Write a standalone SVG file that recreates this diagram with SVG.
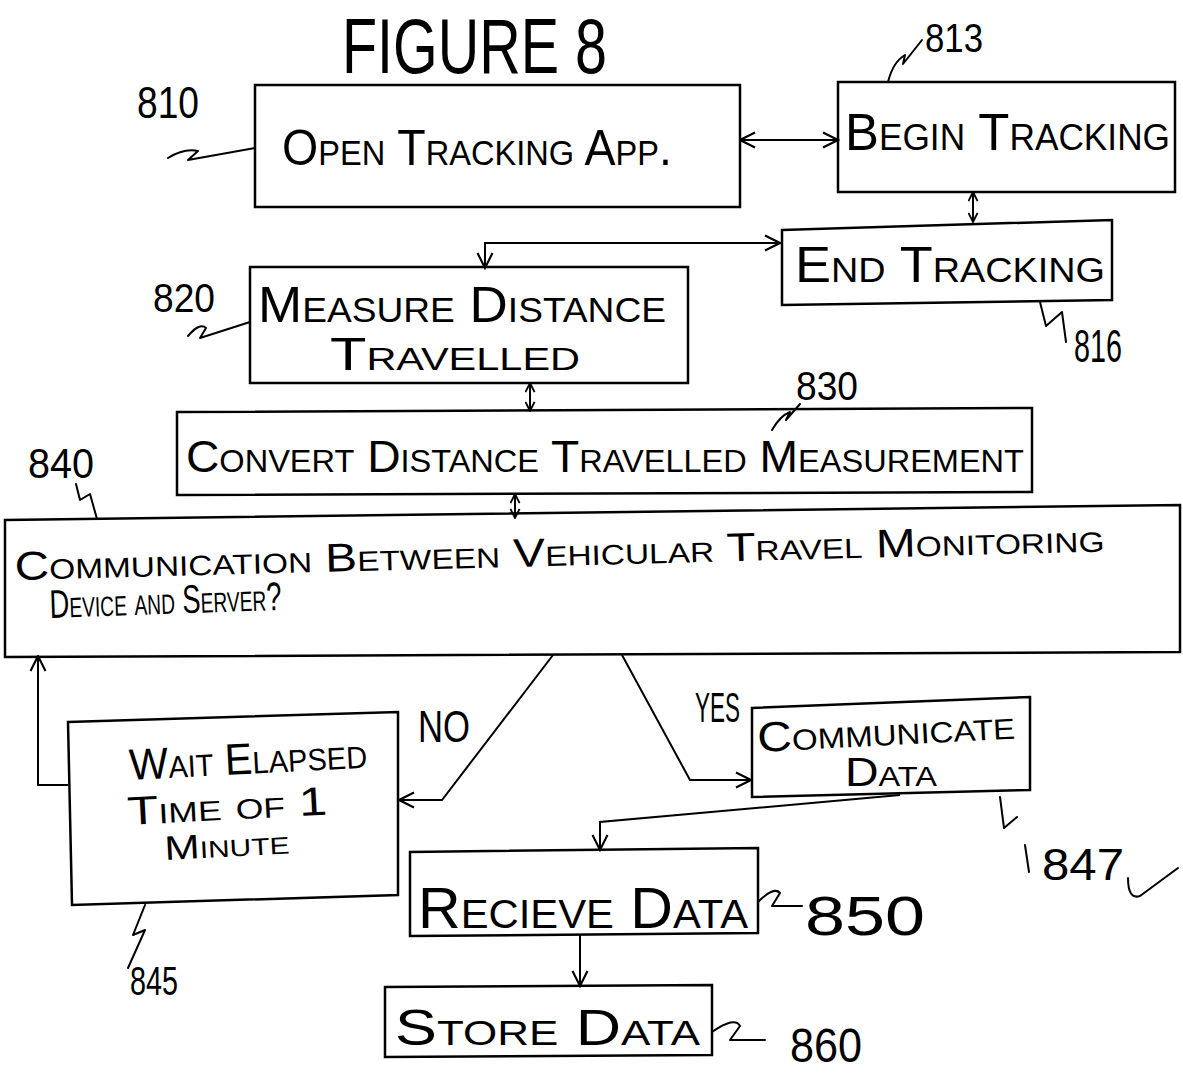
<svg xmlns="http://www.w3.org/2000/svg" width="1183" height="1078" viewBox="0 0 1183 1078">
<style>
.bg{fill:#fff}
.box{fill:none;stroke:#000;stroke-width:2.5;stroke-linejoin:miter}
.ln{fill:none;stroke:#000;stroke-width:2}
.sq{fill:none;stroke:#000;stroke-width:2;stroke-linejoin:round;stroke-linecap:round}
.t{font-family:"Liberation Sans",Arial,sans-serif;font-variant:small-caps;fill:#000}
.n{font-family:"Liberation Sans",Arial,sans-serif;fill:#000}
</style>
<defs>
<marker id="ah" viewBox="0 0 12 12" refX="11" refY="6" markerWidth="18" markerHeight="18" markerUnits="userSpaceOnUse" orient="auto-start-reverse">
<path d="M1 1 L11 6 L1 11" fill="none" stroke="#000" stroke-width="1.4"/>
</marker>
<marker id="ahs" viewBox="0 0 12 12" refX="11" refY="6" markerWidth="11" markerHeight="11" markerUnits="userSpaceOnUse" orient="auto-start-reverse">
<path d="M1 1 L11 6 L1 11" fill="none" stroke="#000" stroke-width="2"/>
</marker>
</defs>
<rect class="bg" x="0" y="0" width="1183" height="1078"/>

<text class="n" x="342" y="73" font-size="78" textLength="265" lengthAdjust="spacingAndGlyphs">FIGURE 8</text>

<g id="n810">
<rect class="box" x="255" y="85" width="485" height="122"/>
<text class="t" x="282" y="165" font-size="50" textLength="390" lengthAdjust="spacingAndGlyphs">Open Tracking App.</text>
<text class="n" x="137" y="118" font-size="44" textLength="62" lengthAdjust="spacingAndGlyphs">810</text>
<path class="sq" d="M168 158 Q184 148 198 151 L188 160 L255 148"/>
</g>

<g id="n813">
<rect class="box" x="838" y="82" width="337" height="110"/>
<text class="t" x="845" y="150" font-size="52" textLength="325" lengthAdjust="spacingAndGlyphs">Begin Tracking</text>
<text class="n" x="925" y="52" font-size="40" textLength="58" lengthAdjust="spacingAndGlyphs">813</text>
<path class="sq" d="M888 82 Q893 62 905 55 L903 64 L922 40"/>
</g>

<g id="n816">
<path class="box" d="M782 230 L1112 220 L1112 300 L782 305 Z"/>
<text class="t" x="795" y="282" font-size="50" textLength="310" lengthAdjust="spacingAndGlyphs">End Tracking</text>
<path class="sq" d="M1040 302 L1046 326 L1062 312 L1066 342"/>
<text class="n" x="1074" y="362" font-size="46" textLength="48" lengthAdjust="spacingAndGlyphs">816</text>
</g>

<g id="n820">
<rect class="box" x="250" y="267" width="438" height="116"/>
<text class="t" x="258" y="322" font-size="50" textLength="408" lengthAdjust="spacingAndGlyphs">Measure Distance</text>
<text class="t" x="330" y="370" font-size="46" textLength="250" lengthAdjust="spacingAndGlyphs">Travelled</text>
<text class="n" x="153" y="312" font-size="40" textLength="62" lengthAdjust="spacingAndGlyphs">820</text>
<path class="sq" d="M188 336 Q200 322 206 328 L200 338 L250 322"/>
</g>

<g id="n830">
<path class="box" d="M177 412 L1032 408 L1032 492 L177 495 Z"/>
<text class="t" x="186" y="472" font-size="44" textLength="838" lengthAdjust="spacingAndGlyphs">Convert Distance Travelled Measurement</text>
<text class="n" x="796" y="400" font-size="40" textLength="62" lengthAdjust="spacingAndGlyphs">830</text>
<path class="sq" d="M772 430 Q780 416 790 412 L786 420 L800 404"/>
</g>

<g id="n840">
<path class="box" d="M5 520 L1180 505 L1180 652 L5 657 Z"/>
<text class="t" x="15" y="580" font-size="40" textLength="1090" lengthAdjust="spacingAndGlyphs" transform="rotate(-1.5 15 580)">Communication Between Vehicular Travel Monitoring</text>
<text class="t" x="50" y="618" font-size="40" textLength="232" lengthAdjust="spacingAndGlyphs" transform="rotate(-2 50 618)">Device and Server?</text>
<text class="n" x="28" y="478" font-size="42" textLength="66" lengthAdjust="spacingAndGlyphs">840</text>
<path class="sq" d="M76 484 L80 500 L90 494 L97 519"/>
</g>

<g id="n845">
<path class="box" d="M68 722 L398 712 L398 895 L72 905 Z"/>
<text class="t" x="130" y="780" font-size="44" textLength="238" lengthAdjust="spacingAndGlyphs" transform="rotate(-3 130 780)">Wait Elapsed</text>
<text class="t" x="128" y="825" font-size="40" textLength="200" lengthAdjust="spacingAndGlyphs" transform="rotate(-3 128 825)">Time of 1</text>
<text class="t" x="165" y="860" font-size="34" textLength="125" lengthAdjust="spacingAndGlyphs" transform="rotate(-3 165 860)">Minute</text>
<path class="sq" d="M145 905 L133 935 L145 930 L128 968"/>
<text class="n" x="130" y="995" font-size="40" textLength="48" lengthAdjust="spacingAndGlyphs">845</text>
</g>

<g id="n847">
<path class="box" d="M752 708 L1030 697 L1030 790 L752 797 Z"/>
<text class="t" x="758" y="752" font-size="42" textLength="258" lengthAdjust="spacingAndGlyphs" transform="rotate(-3 758 752)">Communicate</text>
<text class="t" x="845" y="786" font-size="40" textLength="92" lengthAdjust="spacingAndGlyphs">Data</text>
<path class="sq" d="M1000 797 L1004 828 L1017 817 M1025 845 L1029 872"/>
<text class="n" x="1042" y="880" font-size="44" textLength="82" lengthAdjust="spacingAndGlyphs">847</text>
</g>

<g id="n850">
<path class="box" d="M410 852 L758 848 L758 933 L410 936 Z"/>
<text class="t" x="418" y="928" font-size="58" textLength="330" lengthAdjust="spacingAndGlyphs">Recieve Data</text>
<path class="sq" d="M758 902 Q774 886 780 893 L772 906 L802 906"/>
<text class="n" x="805" y="935" font-size="56" textLength="120" lengthAdjust="spacingAndGlyphs">850</text>
</g>

<g id="n860">
<path class="box" d="M385 987 L712 985 L712 1055 L385 1057 Z"/>
<text class="t" x="395" y="1045" font-size="50" textLength="305" lengthAdjust="spacingAndGlyphs">Store Data</text>
<path class="sq" d="M712 1032 Q735 1016 740 1026 L730 1040 L765 1040"/>
<text class="n" x="790" y="1062" font-size="48" textLength="72" lengthAdjust="spacingAndGlyphs">860</text>
</g>

<g id="connectors">
<path class="ln" d="M740 140 H838" marker-start="url(#ah)" marker-end="url(#ah)"/>
<path class="ln" d="M973 192 V222" marker-start="url(#ahs)" marker-end="url(#ahs)"/>
<path class="ln" d="M485 268 V243 H780" marker-start="url(#ah)" marker-end="url(#ah)"/>
<path class="ln" d="M530 383 V411" marker-start="url(#ahs)" marker-end="url(#ahs)"/>
<path class="ln" d="M515 494 V518" marker-start="url(#ahs)" marker-end="url(#ahs)"/>
<path class="ln" d="M68 785 H38 V656" marker-end="url(#ah)"/>
<path class="ln" d="M553 655 L442 800 H399" marker-end="url(#ah)"/>
<path class="ln" d="M622 655 L690 780 H751" marker-end="url(#ah)"/>
<path class="ln" d="M900 795 L600 822 V850" marker-end="url(#ah)"/>
<path class="ln" d="M580 935 V986" marker-end="url(#ah)"/>
<text class="n" x="418" y="742" font-size="44" textLength="52" lengthAdjust="spacingAndGlyphs">NO</text>
<text class="n" x="695" y="722" font-size="42" textLength="45" lengthAdjust="spacingAndGlyphs">YES</text>
</g>

<path class="sq" d="M1128 878 Q1128 900 1140 896 L1178 868"/>
</svg>
